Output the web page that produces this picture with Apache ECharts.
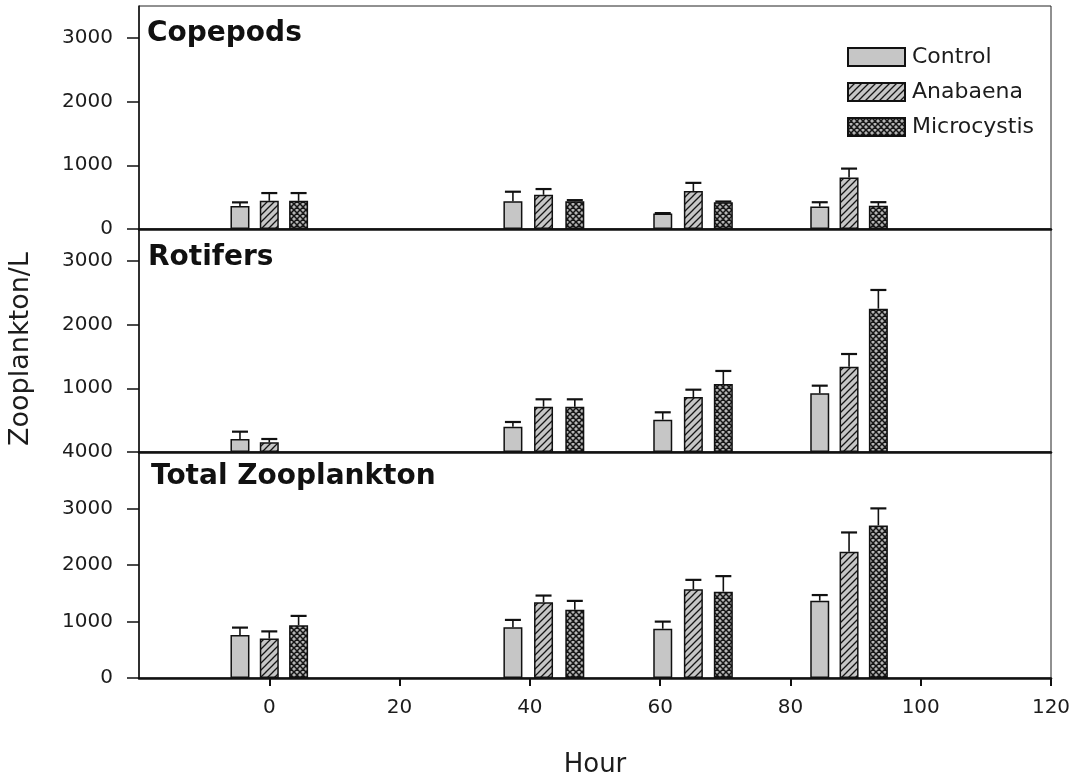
<!DOCTYPE html>
<html>
<head>
<meta charset="utf-8">
<script src="https://cdn.jsdelivr.net/npm/echarts@6/dist/echarts.min.js"></script>
<style>
html,body{margin:0;padding:0;background:#fff;}
#chart{width:1082px;height:781px;}
</style>
</head>
<body>
<div id="chart"></div>
<script>
// ---- data ----
const treatments = ['Control', 'Anabaena', 'Microcystis'];
const panelTitles = ['Copepods', 'Rotifers', 'Total Zooplankton'];
const xTicks = [-20, 0, 20, 40, 60, 80, 100, 120];

// sampling hour at which each bar is plotted
const controlHours     = [-4.5, 37.4, 60.4, 84.5];
const anabaenaHours    = [0.0, 42.1, 65.1, 89.0];
const microcystisHours = [4.5, 46.9, 69.7, 93.5];

// Copepods (Zooplankton/L) and upper error
const copepodsControl        = [360, 437, 242, 352];
const copepodsControlErr     = [58, 148, 8, 68];
const copepodsAnabaena       = [442, 537, 597, 810];
const copepodsAnabaenaErr    = [122, 90, 127, 138];
const copepodsMicrocystis    = [442, 437, 421, 363];
const copepodsMicrocystisErr = [122, 16, 10, 58];

// Rotifers
const rotifersControl        = [204, 397, 507, 921];
const rotifersControlErr     = [115, 74, 116, 120];
const rotifersAnabaena       = [152, 711, 863, 1339];
const rotifersAnabaenaErr    = [52, 116, 115, 199];
const rotifersMicrocystis    = [null, 711, 1067, 2250];
const rotifersMicrocystisErr = [null, 116, 205, 293];

// Total zooplankton
const totalControl        = [760, 899, 872, 1368];
const totalControlErr     = [132, 129, 126, 100];
const totalAnabaena       = [697, 1342, 1570, 2234];
const totalAnabaenaErr    = [128, 117, 167, 342];
const totalMicrocystis    = [934, 1206, 1528, 2700];
const totalMicrocystisErr = [165, 159, 275, 302];

// y-axis ticks / labels per panel
const yMax = [3500, 3500, 4000];
const yTickValues  = [[0, 1000, 2000, 3000], [0, 1000, 2000, 3000], [0, 1000, 2000, 3000, 4000]];
const yLabelValues = [[0, 1000, 2000, 3000], [1000, 2000, 3000], [0, 1000, 2000, 3000, 4000]];

// ---- fill patterns ----
function makePattern(kind) {
  const s = kind === 'cross' ? 6 : 7;
  const c = document.createElement('canvas');
  c.width = s; c.height = s;
  const g = c.getContext('2d');
  g.fillStyle = kind === 'cross' ? '#b4b4b4' : '#c6c6c6';
  g.fillRect(0, 0, s, s);
  g.strokeStyle = '#151515';
  g.lineWidth = kind === 'cross' ? 1.5 : 1.3;
  g.beginPath();
  g.moveTo(-1, s + 1); g.lineTo(s + 1, -1);
  g.moveTo(-2, 2); g.lineTo(2, -2);
  g.moveTo(s - 2, s + 2); g.lineTo(s + 2, s - 2);
  if (kind === 'cross') {
    g.moveTo(-1, -1); g.lineTo(s + 1, s + 1);
    g.moveTo(-2, s - 2); g.lineTo(2, s + 2);
    g.moveTo(s - 2, -2); g.lineTo(s + 2, 2);
  }
  g.stroke();
  return { image: c, repeat: 'repeat' };
}
const fills = ['#c6c6c6', makePattern('hatch'), makePattern('cross')];

const hoursByTreatment = [controlHours, anabaenaHours, microcystisHours];
const panelValues = [
  [copepodsControl, copepodsAnabaena, copepodsMicrocystis],
  [rotifersControl, rotifersAnabaena, rotifersMicrocystis],
  [totalControl, totalAnabaena, totalMicrocystis]
];
const panelErrors = [
  [copepodsControlErr, copepodsAnabaenaErr, copepodsMicrocystisErr],
  [rotifersControlErr, rotifersAnabaenaErr, rotifersMicrocystisErr],
  [totalControlErr, totalAnabaenaErr, totalMicrocystisErr]
];

const FONT = 'DejaVu Sans';
const TXT = '#1c1c1c';

const grids = [
  { left: 139, right: 31, top: 6, height: 223 },
  { left: 139, right: 31, top: 229, height: 223 },
  { left: 139, right: 31, top: 452, height: 226 }
].map(g => Object.assign(g, { show: true, borderColor: '#222', borderWidth: 1, backgroundColor: 'transparent' }));

const xAxes = [0, 1, 2].map(i => ({
  type: 'value', gridIndex: i, min: xTicks[0], max: xTicks[xTicks.length - 1], interval: 20,
  splitLine: { show: false },
  axisLine: { show: true, onZero: false, lineStyle: { color: '#111', width: 2.5 } },
  axisTick: { show: i === 2, length: 8, lineStyle: { color: '#111', width: 2 } },
  axisLabel: { show: i === 2, showMinLabel: false, margin: 20, fontFamily: FONT, fontSize: 20, color: TXT },
  name: i === 2 ? 'Hour' : '',
  nameLocation: 'middle', nameGap: 74,
  nameTextStyle: { fontFamily: FONT, fontSize: 26, color: TXT }
}));

const yAxes = [0, 1, 2].map(i => ({
  type: 'value', gridIndex: i, min: 0, max: yMax[i], interval: 1000,
  splitLine: { show: false },
  axisLine: { show: true, onZero: false, lineStyle: { color: '#111', width: 1.5 } },
  axisTick: { show: true, length: 12, customValues: yTickValues[i], lineStyle: { color: '#111', width: 1.5 } },
  axisLabel: { customValues: yLabelValues[i], margin: 26, fontFamily: FONT, fontSize: 20, color: TXT,
               formatter: v => String(v) }
}));

const series = [];
for (let p = 0; p < 3; p++) {
  for (let t = 0; t < 3; t++) {
    series.push({
      type: 'bar', name: treatments[t], xAxisIndex: p, yAxisIndex: p,
      barWidth: 19, barGap: '-100%',
      itemStyle: { color: fills[t], borderColor: '#111', borderWidth: 1.5 },
      data: hoursByTreatment[t].map((h, j) => [h, panelValues[p][t][j]]),
      z: 2
    });
  }
  const errData = [];
  for (let t = 0; t < 3; t++) {
    hoursByTreatment[t].forEach((h, j) => {
      if (panelValues[p][t][j] != null) errData.push([h, panelValues[p][t][j], panelErrors[p][t][j]]);
    });
  }
  series.push({
    type: 'custom', xAxisIndex: p, yAxisIndex: p, z: 3, silent: true,
    encode: { x: 0, y: 1 },
    data: errData,
    renderItem: function (params, api) {
      const x = api.value(0), y = api.value(1), e = api.value(2);
      const a = api.coord([x, y]), b = api.coord([x, y + e]);
      const hw = 8;
      return {
        type: 'group', children: [
          { type: 'line', shape: { x1: a[0], y1: a[1], x2: b[0], y2: b[1] }, style: { stroke: '#111', lineWidth: 1.6 } },
          { type: 'line', shape: { x1: b[0] - hw, y1: b[1], x2: b[0] + hw, y2: b[1] }, style: { stroke: '#111', lineWidth: 2.2 } }
        ]
      };
    }
  });
}

const chart = echarts.init(document.getElementById('chart'));
chart.setOption({
  backgroundColor: '#fff',
  animation: false,
  title: [
    { text: panelTitles[0], left: 147, top: 20 },
    { text: panelTitles[1], left: 148, top: 244 },
    { text: panelTitles[2], left: 151, top: 463 }
  ].map(t => Object.assign(t, { padding: 0, textStyle: { fontFamily: FONT, fontWeight: 'bold', fontSize: 28, color: '#111' } })),
  legend: {
    data: treatments, orient: 'vertical', left: 842, top: 41, icon: 'rect',
    itemWidth: 57, itemHeight: 18, itemGap: 13,
    textStyle: { fontFamily: FONT, fontSize: 22, color: TXT, padding: [0, 0, 0, 2] }
  },
  grid: grids,
  xAxis: xAxes,
  yAxis: yAxes,
  graphic: [{
    type: 'text', x: 21, y: 349, rotation: Math.PI / 2,
    style: { text: 'Zooplankton/L', font: '27px "DejaVu Sans"', fill: TXT, textAlign: 'center', textVerticalAlign: 'middle' }
  }],
  series: series
});
</script>
</body>
</html>
